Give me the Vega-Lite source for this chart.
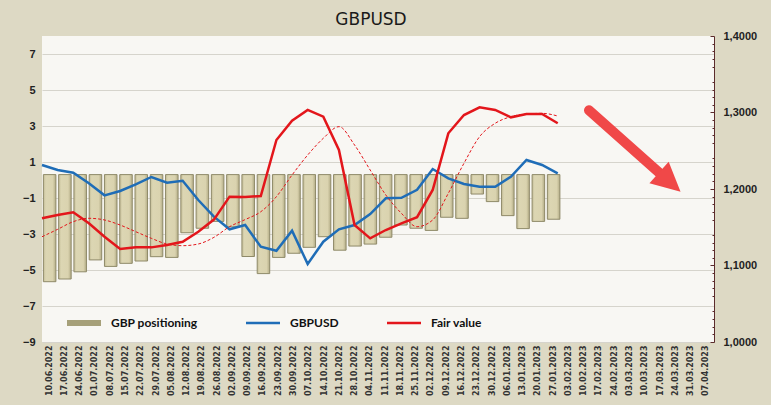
{
  "$schema": "https://vega.github.io/schema/vega-lite/v6.json",
  "width": 672,
  "height": 306,
  "autosize": {"type": "none"},
  "padding": {"left": 42, "top": 36, "right": 57, "bottom": 63},
  "background": "#DDD9C4",
  "config": {"view": {"fill": "#F8F7F3", "stroke": null}, "font": "Liberation Sans"},
  "title": {"text": "GBPUSD", "fontSize": 17, "fontWeight": "normal", "font": "DejaVu Sans", "color": "#1a1a1a", "anchor": "middle", "offset": 1, "dx": -7},
  "datasets": {
    "main": [
      {"date": "10.06.2022", "pos": -5.65, "gbpusd": 1.2314, "fair": 1.1617, "ma": 1.1376},
      {"date": "17.06.2022", "pos": -5.5, "gbpusd": 1.2248, "fair": 1.166, "ma": 1.1473},
      {"date": "24.06.2022", "pos": -5.1, "gbpusd": 1.2213, "fair": 1.1695, "ma": 1.1573},
      {"date": "01.07.2022", "pos": -4.44, "gbpusd": 1.2074, "fair": 1.1551, "ma": 1.1617},
      {"date": "08.07.2022", "pos": -4.8, "gbpusd": 1.1917, "fair": 1.1376, "ma": 1.1595},
      {"date": "15.07.2022", "pos": -4.63, "gbpusd": 1.1974, "fair": 1.1216, "ma": 1.1529},
      {"date": "22.07.2022", "pos": -4.5, "gbpusd": 1.2061, "fair": 1.1237, "ma": 1.1442},
      {"date": "29.07.2022", "pos": -4.26, "gbpusd": 1.2157, "fair": 1.1237, "ma": 1.1355},
      {"date": "05.08.2022", "pos": -4.3, "gbpusd": 1.2082, "fair": 1.1268, "ma": 1.1281},
      {"date": "12.08.2022", "pos": -2.93, "gbpusd": 1.2108, "fair": 1.1311, "ma": 1.1259},
      {"date": "19.08.2022", "pos": -2.68, "gbpusd": 1.1856, "fair": 1.1442, "ma": 1.1281},
      {"date": "26.08.2022", "pos": -2.3, "gbpusd": 1.1638, "fair": 1.16, "ma": 1.1368},
      {"date": "02.09.2022", "pos": -2.6, "gbpusd": 1.1473, "fair": 1.19, "ma": 1.1507},
      {"date": "09.09.2022", "pos": -4.25, "gbpusd": 1.1529, "fair": 1.1895, "ma": 1.16},
      {"date": "16.09.2022", "pos": -5.2, "gbpusd": 1.1246, "fair": 1.1908, "ma": 1.1703},
      {"date": "23.09.2022", "pos": -4.3, "gbpusd": 1.1193, "fair": 1.2641, "ma": 1.19},
      {"date": "30.09.2022", "pos": -4.07, "gbpusd": 1.1455, "fair": 1.2893, "ma": 1.2183},
      {"date": "07.10.2022", "pos": -3.74, "gbpusd": 1.102, "fair": 1.3033, "ma": 1.2444},
      {"date": "14.10.2022", "pos": -3.15, "gbpusd": 1.1311, "fair": 1.2945, "ma": 1.2663},
      {"date": "21.10.2022", "pos": -3.9, "gbpusd": 1.1473, "fair": 1.251, "ma": 1.2815},
      {"date": "28.10.2022", "pos": -3.67, "gbpusd": 1.1529, "fair": 1.1529, "ma": 1.2575},
      {"date": "04.11.2022", "pos": -3.56, "gbpusd": 1.1673, "fair": 1.1355, "ma": 1.2248},
      {"date": "11.11.2022", "pos": -3.18, "gbpusd": 1.1878, "fair": 1.1464, "ma": 1.1922},
      {"date": "18.11.2022", "pos": -2.5, "gbpusd": 1.1885, "fair": 1.1551, "ma": 1.1682},
      {"date": "25.11.2022", "pos": -2.68, "gbpusd": 1.199, "fair": 1.1632, "ma": 1.1507},
      {"date": "02.12.2022", "pos": -2.8, "gbpusd": 1.2261, "fair": 1.1987, "ma": 1.1595},
      {"date": "09.12.2022", "pos": -2.07, "gbpusd": 1.2139, "fair": 1.2728, "ma": 1.1944},
      {"date": "16.12.2022", "pos": -2.13, "gbpusd": 1.2065, "fair": 1.2967, "ma": 1.2336},
      {"date": "23.12.2022", "pos": -0.78, "gbpusd": 1.203, "fair": 1.3068, "ma": 1.2684},
      {"date": "30.12.2022", "pos": -1.2, "gbpusd": 1.203, "fair": 1.3033, "ma": 1.2859},
      {"date": "06.01.2023", "pos": -1.98, "gbpusd": 1.216, "fair": 1.2937, "ma": 1.2945},
      {"date": "13.01.2023", "pos": -2.7, "gbpusd": 1.2379, "fair": 1.298, "ma": 1.298},
      {"date": "20.01.2023", "pos": -2.3, "gbpusd": 1.2314, "fair": 1.298, "ma": 1.2989},
      {"date": "27.01.2023", "pos": -2.18, "gbpusd": 1.2205, "fair": 1.2859, "ma": 1.2954}
    ],
    "arrow": [
      {"date": "10.02.2023", "price": 1.303},
      {"date": "17.03.2023", "price": 1.2122}
    ],
    "head": [
      {"date": "17.03.2023", "price": 1.2122}
    ]
  },
  "layer": [
    {
      "data": {"name": "main"},
      "mark": {
        "type": "bar", "stroke": "#8F8A69", "strokeWidth": 1,
        "fill": {"gradient": "linear", "x1": 0, "x2": 1, "y1": 0, "y2": 0, "stops": [
          {"offset": 0, "color": "#C4BD97"}, {"offset": 0.2, "color": "#DCD6B3"}, {"offset": 0.75, "color": "#DAD3AF"}, {"offset": 1, "color": "#B3AC86"}
        ]}
      },
      "encoding": {
        "x": {
          "field": "date", "type": "ordinal", "sort": null,
          "scale": {
            "domain": ["10.06.2022","17.06.2022","24.06.2022","01.07.2022","08.07.2022","15.07.2022","22.07.2022","29.07.2022","05.08.2022","12.08.2022","19.08.2022","26.08.2022","02.09.2022","09.09.2022","16.09.2022","23.09.2022","30.09.2022","07.10.2022","14.10.2022","21.10.2022","28.10.2022","04.11.2022","11.11.2022","18.11.2022","25.11.2022","02.12.2022","09.12.2022","16.12.2022","23.12.2022","30.12.2022","06.01.2023","13.01.2023","20.01.2023","27.01.2023","03.02.2023","10.02.2023","17.02.2023","24.02.2023","03.03.2023","10.03.2023","17.03.2023","24.03.2023","31.03.2023","07.04.2023"],
            "paddingInner": 0.18, "paddingOuter": 0.09
          },
          "axis": {"orient": "bottom", "title": null, "labelAngle": 270, "labelFont": "DejaVu Sans", "labelFontSize": 8, "labelFontWeight": "bold", "labelColor": "#333333", "domain": false, "ticks": false, "grid": false, "labelPadding": 3, "labelOverlap": false}
        },
        "y": {
          "field": "pos", "type": "quantitative",
          "scale": {"domain": [-9, 8], "nice": false, "zero": false},
          "axis": {"orient": "left", "title": null, "values": [-9, -7, -5, -3, -1, 1, 3, 5, 7], "grid": true, "gridColor": "#D6D4CC", "domain": false, "ticks": false, "labelPadding": 7, "labelFont": "Liberation Sans", "labelFontSize": 11, "labelFontWeight": "bold", "labelColor": "#222222"}
        },
        "y2": {"datum": 0.3}
      }
    },
    {
      "encoding": {
        "x": {
          "field": "date", "type": "ordinal", "sort": null,
          "scale": {
            "type": "point", "padding": 0,
            "domain": ["10.06.2022","17.06.2022","24.06.2022","01.07.2022","08.07.2022","15.07.2022","22.07.2022","29.07.2022","05.08.2022","12.08.2022","19.08.2022","26.08.2022","02.09.2022","09.09.2022","16.09.2022","23.09.2022","30.09.2022","07.10.2022","14.10.2022","21.10.2022","28.10.2022","04.11.2022","11.11.2022","18.11.2022","25.11.2022","02.12.2022","09.12.2022","16.12.2022","23.12.2022","30.12.2022","06.01.2023","13.01.2023","20.01.2023","27.01.2023","03.02.2023","10.02.2023","17.02.2023","24.02.2023","03.03.2023","10.03.2023","17.03.2023","24.03.2023","31.03.2023","07.04.2023"]
          },
          "axis": null
        }
      },
      "layer": [
        {
          "data": {"name": "main"},
          "mark": {"type": "line", "strokeWidth": 2.5},
          "encoding": {
            "y": {
              "field": "gbpusd", "type": "quantitative",
              "scale": {"domain": [1.0, 1.4], "nice": false, "zero": false},
              "axis": {"orient": "right", "title": null, "values": [1.0, 1.05, 1.1, 1.15, 1.2, 1.25, 1.3, 1.35, 1.4], "labelExpr": "replace(format(datum.value, '.4f'), '.', ',')", "grid": false, "domain": true, "domainColor": "#5B2B2B", "tickColor": "#5B2B2B", "tickSize": -4, "labelPadding": 13, "labelFont": "Liberation Sans", "labelFontSize": 11, "labelFontWeight": "bold", "labelColor": "#222222"}
            },
            "color": {
              "datum": "GBPUSD", "type": "nominal",
              "scale": {"domain": ["GBP positioning", "GBPUSD", "Fair value"], "range": ["#A6A079", "#1F6DB7", "#E3161B"]},
              "legend": {
                "orient": "none", "legendX": 25, "legendY": 270, "direction": "horizontal", "title": null,
                "columnPadding": 48, "gridAlign": "none", "padding": 0,
                "labelFont": "Lato", "labelFontSize": 12, "labelFontWeight": "bold", "labelColor": "#111111", "labelOffset": 10,
                "symbolType": "M-1,-0.1H1V0.1H-1Z", "symbolSize": 1156, "symbolStrokeWidth": 0,
                "encode": {
                  "symbols": {
                    "update": {
                      "fill": {"scale": "color", "field": "value"},
                      "shape": {"signal": "datum.value === 'GBP positioning' ? 'M-1,-0.17H1V0.17H-1Z' : 'M-1,-0.08H1V0.08H-1Z'"},
                      "stroke": {"value": "transparent"},
                      "opacity": {"value": 1}
                    }
                  }
                }
              }
            }
          }
        },
        {
          "data": {"name": "main"},
          "mark": {"type": "line", "strokeWidth": 2.5},
          "encoding": {
            "y": {"field": "fair", "type": "quantitative"},
            "color": {"datum": "Fair value", "type": "nominal"}
          }
        },
        {
          "data": {"name": "main"},
          "mark": {"type": "line", "strokeWidth": 1, "strokeDash": [3, 2], "color": "#E3161B", "interpolate": "monotone"},
          "encoding": {
            "y": {"field": "ma", "type": "quantitative"}
          }
        },
        {
          "data": {"name": "arrow"},
          "mark": {"type": "line", "strokeWidth": 10, "strokeCap": "round", "color": "#F04848"},
          "encoding": {
            "y": {"field": "price", "type": "quantitative"}
          }
        },
        {
          "data": {"name": "head"},
          "mark": {"type": "point", "shape": "M1,0L-0.6,-0.8L-0.6,0.8Z", "size": 1300, "angle": 41.8, "filled": true, "color": "#F04848", "opacity": 1, "strokeWidth": 0},
          "encoding": {
            "y": {"field": "price", "type": "quantitative"}
          }
        }
      ]
    },
    {
      "data": {"name": "head"},
      "mark": {"type": "point", "opacity": 0},
      "encoding": {
        "y": {
          "field": "price", "type": "quantitative",
          "scale": {"domain": [1.0, 1.4], "nice": false, "zero": false},
          "axis": {"orient": "right", "title": null, "values": [1.01, 1.02, 1.03, 1.04, 1.06, 1.07, 1.08, 1.09, 1.11, 1.12, 1.13, 1.14, 1.16, 1.17, 1.18, 1.19, 1.21, 1.22, 1.23, 1.24, 1.26, 1.27, 1.28, 1.29, 1.31, 1.32, 1.33, 1.34, 1.36, 1.37, 1.38, 1.39], "labels": false, "grid": false, "domain": false, "tickColor": "#5B2B2B", "tickSize": -2}
        }
      }
    }
  ],
  "resolve": {"scale": {"x": "independent", "y": "independent"}}
}
